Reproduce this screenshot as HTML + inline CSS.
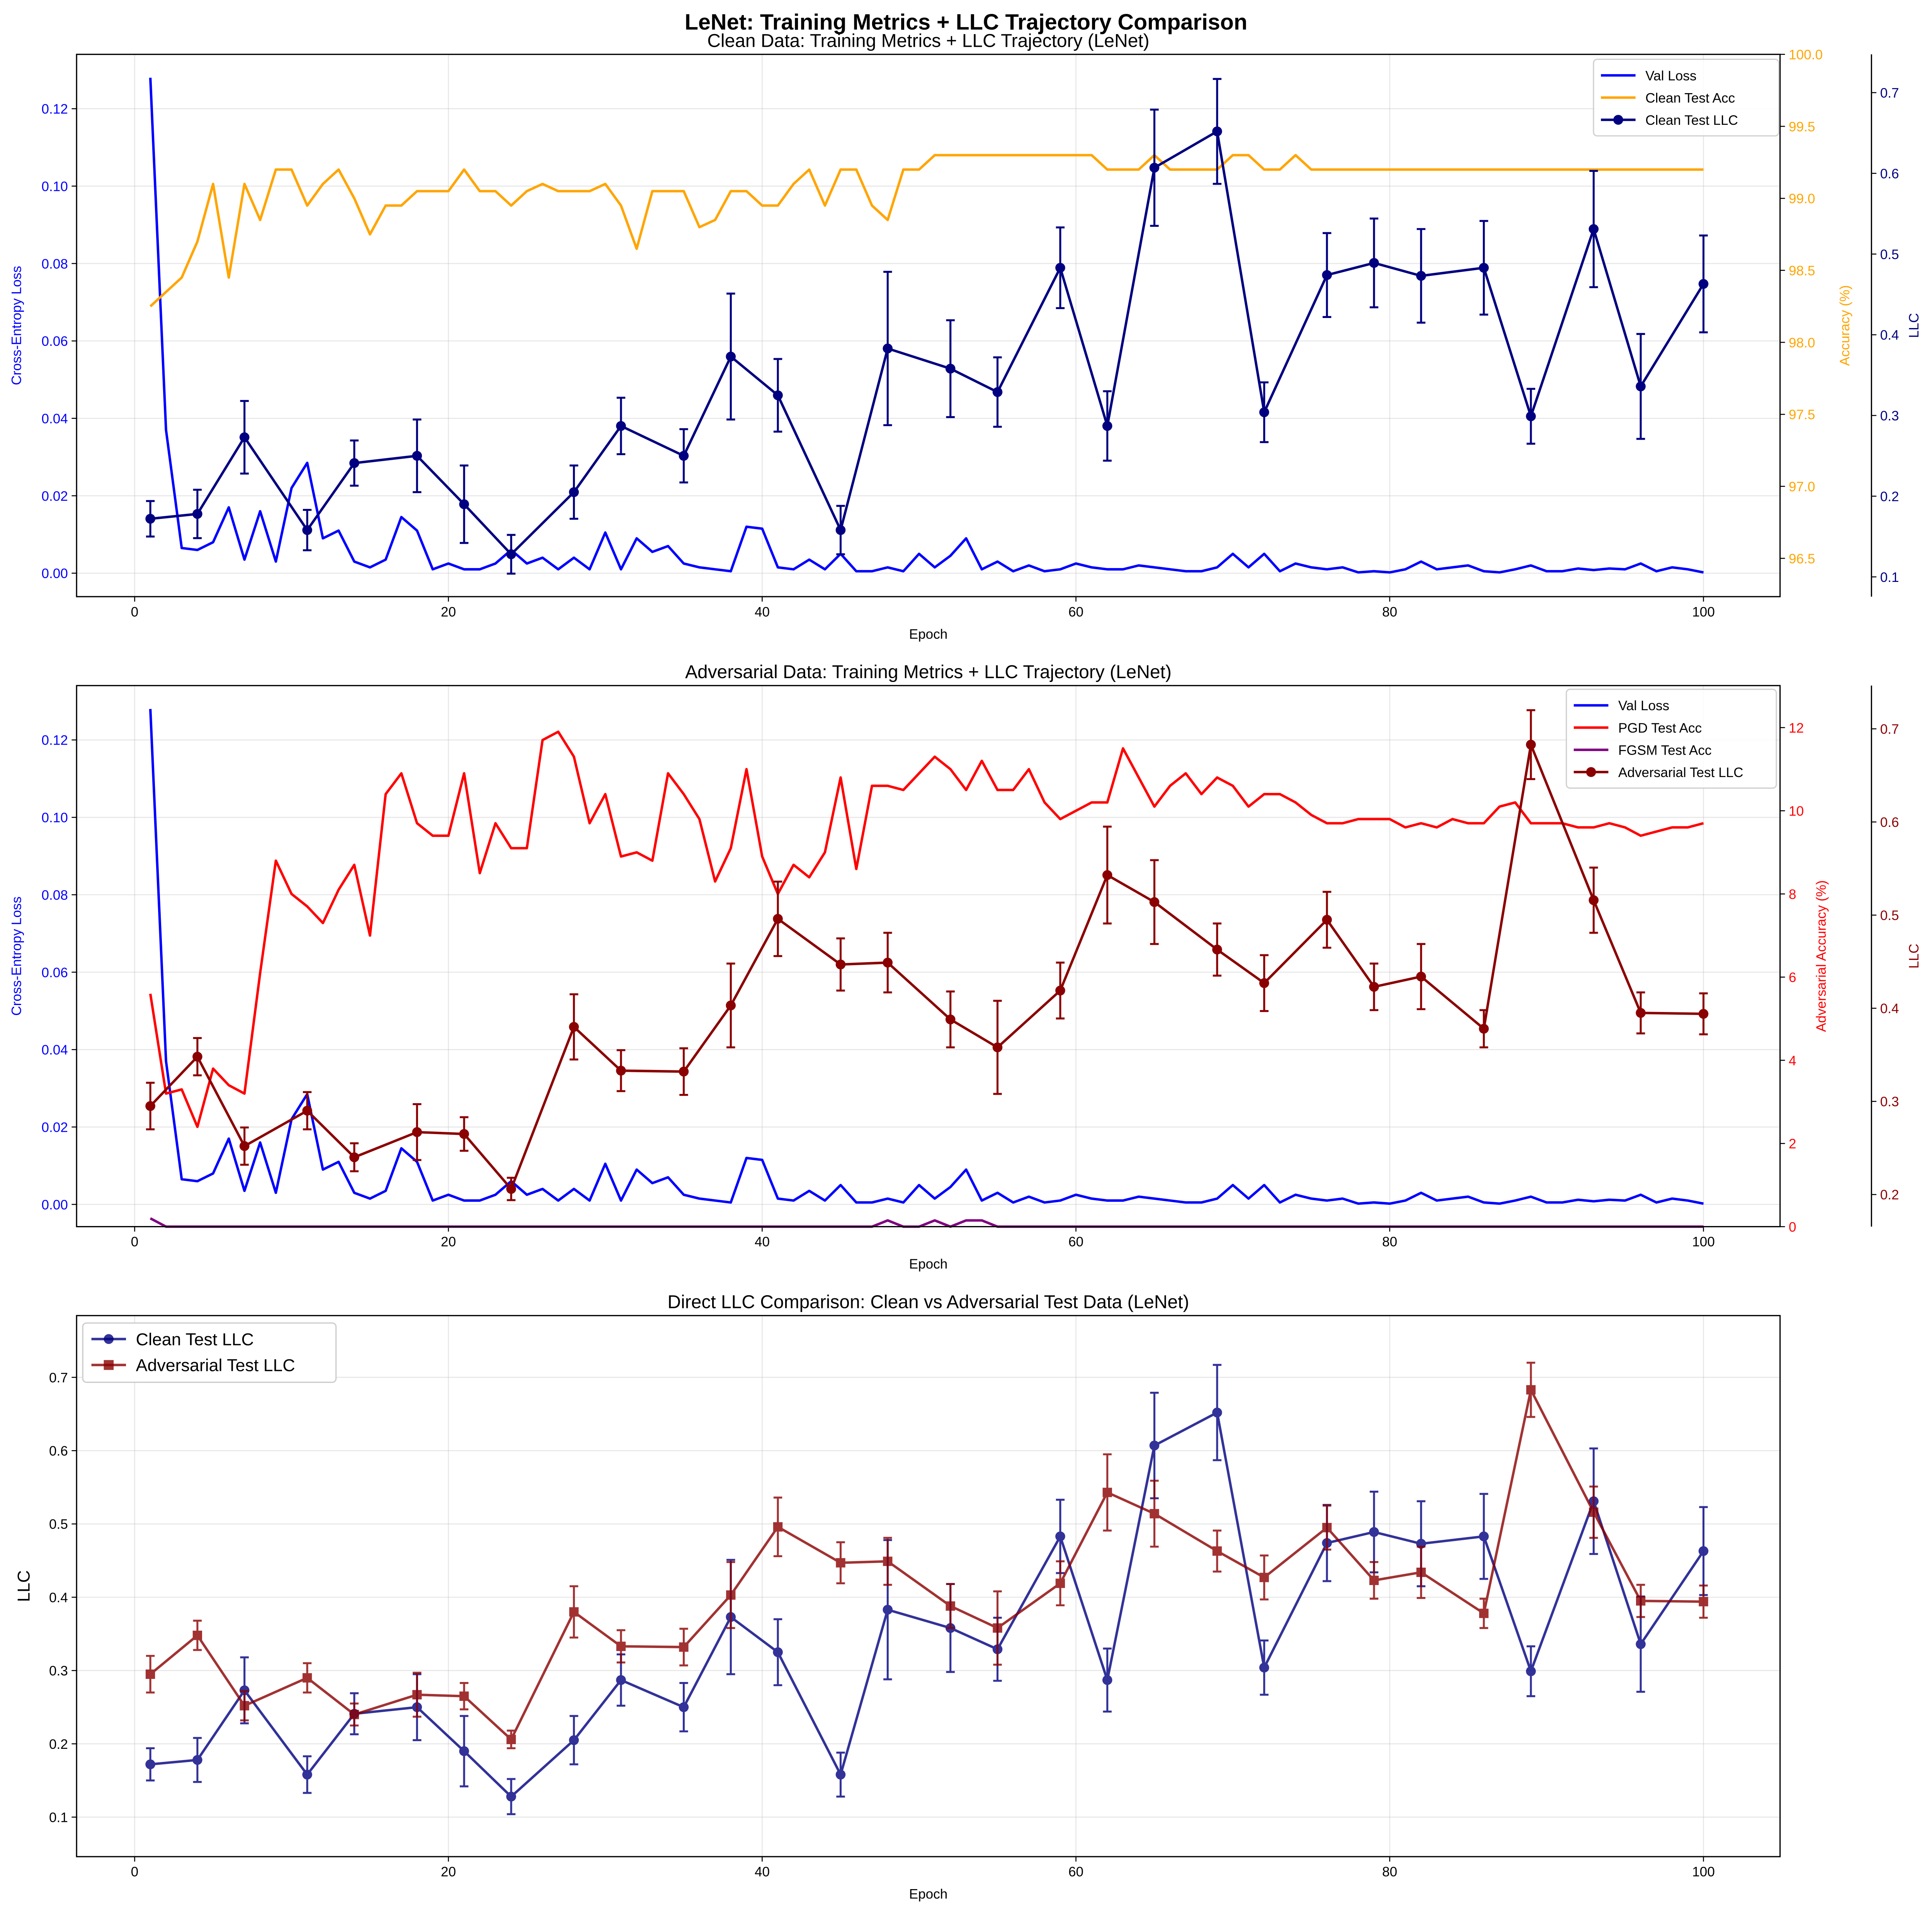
<!DOCTYPE html>
<html><head><meta charset="utf-8"><style>
html,body{margin:0;padding:0;background:#fff;overflow:hidden;width:100vw;height:100vh;}
svg{display:block;width:100vw;height:100vh;font-family:"Liberation Sans","DejaVu Sans",sans-serif;}
</style></head><body>
<svg id="fig" xmlns="http://www.w3.org/2000/svg" viewBox="0 0 1564 1546" preserveAspectRatio="xMidYMin meet">
<rect width="1564" height="1546" fill="#fff"/>
<text x="782" y="24" text-anchor="middle" font-size="18" font-weight="bold">LeNet: Training Metrics + LLC Trajectory Comparison</text>
</svg>
<script>
const llcEpochs=[1,4,7,11,14,18,21,24,28,31,35,38,41,45,48,52,55,59,62,65,69,72,76,79,82,86,89,93,96,100];
const cleanLLC=[0.172,0.178,0.273,0.158,0.241,0.250,0.190,0.128,0.205,0.287,0.250,0.373,0.325,0.158,0.383,0.358,0.329,0.483,0.287,0.607,0.652,0.304,0.474,0.489,0.473,0.483,0.299,0.531,0.336,0.463];
const cleanErr=[0.022,0.03,0.045,0.025,0.028,0.045,0.048,0.024,0.033,0.035,0.033,0.078,0.045,0.03,0.095,0.06,0.043,0.05,0.043,0.072,0.065,0.037,0.052,0.055,0.058,0.058,0.034,0.072,0.065,0.06];
const advLLC=[0.295,0.348,0.252,0.290,0.240,0.267,0.265,0.206,0.380,0.333,0.332,0.403,0.496,0.447,0.449,0.388,0.358,0.419,0.543,0.514,0.463,0.427,0.495,0.423,0.434,0.378,0.683,0.516,0.395,0.394];
const advErr=[0.025,0.02,0.02,0.02,0.015,0.03,0.018,0.012,0.035,0.022,0.025,0.045,0.04,0.028,0.032,0.03,0.05,0.03,0.052,0.045,0.028,0.03,0.03,0.025,0.035,0.02,0.037,0.035,0.022,0.022];
const valLoss=[0.128,0.037,0.0065,0.006,0.008,0.017,0.0035,0.016,0.003,0.022,0.0285,0.009,0.011,0.003,0.0015,0.0035,0.0145,0.011,0.001,0.0025,0.001,0.001,0.0025,0.006,0.0025,0.004,0.001,0.004,0.001,0.0105,0.001,0.009,0.0055,0.007,0.0025,0.0015,0.001,0.0005,0.012,0.0115,0.0015,0.001,0.0035,0.001,0.005,0.0005,0.0005,0.0015,0.0005,0.005,0.0015,0.0045,0.009,0.001,0.003,0.0005,0.002,0.0005,0.001,0.0025,0.0015,0.001,0.001,0.002,0.0015,0.001,0.0005,0.0005,0.0015,0.005,0.0015,0.005,0.0005,0.0025,0.0015,0.001,0.0015,0.0002,0.0005,0.0002,0.001,0.003,0.001,0.0015,0.002,0.0005,0.0002,0.001,0.002,0.0005,0.0005,0.0012,0.0008,0.0012,0.001,0.0025,0.0005,0.0015,0.001,0.0002];
const cleanAcc=[98.25,98.35,98.45,98.7,99.1,98.45,99.1,98.85,99.2,99.2,98.95,99.1,99.2,99.0,98.75,98.95,98.95,99.05,99.05,99.05,99.2,99.05,99.05,98.95,99.05,99.1,99.05,99.05,99.05,99.1,98.95,98.65,99.05,99.05,99.05,98.8,98.85,99.05,99.05,98.95,98.95,99.1,99.2,98.95,99.2,99.2,98.95,98.85,99.2,99.2,99.3,99.3,99.3,99.3,99.3,99.3,99.3,99.3,99.3,99.3,99.3,99.2,99.2,99.2,99.3,99.2,99.2,99.2,99.2,99.3,99.3,99.2,99.2,99.3,99.2,99.2,99.2,99.2,99.2,99.2,99.2,99.2,99.2,99.2,99.2,99.2,99.2,99.2,99.2,99.2,99.2,99.2,99.2,99.2,99.2,99.2,99.2,99.2,99.2,99.2];
const pgdAcc=[5.6,3.2,3.3,2.4,3.8,3.4,3.2,6.1,8.8,8.0,7.7,7.3,8.1,8.7,7.0,10.4,10.9,9.7,9.4,9.4,10.9,8.5,9.7,9.1,9.1,11.7,11.9,11.3,9.7,10.4,8.9,9.0,8.8,10.9,10.4,9.8,8.3,9.1,11.0,8.9,8.0,8.7,8.4,9.0,10.8,8.6,10.6,10.6,10.5,10.9,11.3,11.0,10.5,11.2,10.5,10.5,11.0,10.2,9.8,10.0,10.2,10.2,11.5,10.8,10.1,10.6,10.9,10.4,10.8,10.6,10.1,10.4,10.4,10.2,9.9,9.7,9.7,9.8,9.8,9.8,9.6,9.7,9.6,9.8,9.7,9.7,10.1,10.2,9.7,9.7,9.7,9.6,9.6,9.7,9.6,9.4,9.5,9.6,9.6,9.7];
const fgsmAcc=[0.2,0,0,0,0,0,0,0,0,0,0,0,0,0,0,0,0,0,0,0,0,0,0,0,0,0,0,0,0,0,0,0,0,0,0,0,0,0,0,0,0,0,0,0,0,0,0,0.15,0,0,0.15,0,0.15,0.15,0,0,0,0,0,0,0,0,0,0,0,0,0,0,0,0,0,0,0,0,0,0,0,0,0,0,0,0,0,0,0,0,0,0,0,0,0,0,0,0,0,0,0,0,0,0];
const xTicks=[0,20,40,60,80,100];
const lossTicks=[0,0.02,0.04,0.06,0.08,0.10,0.12];
const cleanAccTicks=[96.5,97,97.5,98,98.5,99,99.5,100];
const advAccTicks=[0,2,4,6,8,10,12];
const llcTicks=[0.1,0.2,0.3,0.4,0.5,0.6,0.7];
const llcTicks2=[0.2,0.3,0.4,0.5,0.6,0.7];

const svg=document.getElementById('fig');
const NS='http://www.w3.org/2000/svg';
function mk(tag,at,parent){const e=document.createElementNS(NS,tag);for(const k in at)e.setAttribute(k,at[k]);(parent||svg).appendChild(e);return e;}
function lin(d0,d1,r0,r1){return v=>r0+(v-d0)*(r1-r0)/(d1-d0);}
const L=62,R=1441;
const X=lin(0,100,109,1379);
const epochs=valLoss.map((_,i)=>i+1);
function poly(xs,ys,fx,fy,color,w,name){
 const p=mk('polyline',{points:xs.map((x,i)=>fx(x).toFixed(2)+','+fy(ys[i]).toFixed(2)).join(' '),fill:'none',stroke:color,'stroke-width':w,'stroke-linejoin':'round'});
 
 
 return p;
}
function errs(xs,ys,es,fx,fy,color,name,sq,op){
 const g=mk('g',{opacity:op||1});
 
 
 xs.forEach((x,i)=>{const cx=fx(x),y1=fy(ys[i]-es[i]),y2=fy(ys[i]+es[i]);
  mk('line',{x1:cx,x2:cx,y1:y1,y2:y2,stroke:color,'stroke-width':1.6},g);
  mk('line',{x1:cx-3.5,x2:cx+3.5,y1:y1,y2:y1,stroke:color,'stroke-width':1.6},g);
  mk('line',{x1:cx-3.5,x2:cx+3.5,y1:y2,y2:y2,stroke:color,'stroke-width':1.6},g);});
 const p=poly(xs,ys,fx,fy,color,2,name+'-line');g.appendChild(p);
 xs.forEach((x,i)=>{let m;
  if(sq){m=mk('rect',{x:fx(x)-3.8,y:fy(ys[i])-3.8,width:7.6,height:7.6,fill:color},g);}
  else{m=mk('circle',{cx:fx(x),cy:fy(ys[i]),r:4,fill:color},g);}
  
  });
}
function txt(x,y,s,o,name){const t=mk('text',Object.assign({x:x,y:y},o));t.textContent=s;
 return t;}
function frame(T,B,title){
 const g=mk('g',{});
 
 
 xTicks.forEach(v=>{const x=X(v);mk('line',{x1:x,x2:x,y1:T,y2:B,stroke:'#b0b0b0','stroke-width':0.8,opacity:0.3},g);
  mk('line',{x1:x,x2:x,y1:B,y2:B+4,stroke:'#000','stroke-width':0.8},g);
  txt(x,B+16,String(v),{'text-anchor':'middle','font-size':11},'x-tick-label');});
 txt((L+R)/2,B+34,'Epoch',{'text-anchor':'middle','font-size':11},'x-axis-title');
 txt((L+R)/2,T-6,title,{'text-anchor':'middle','font-size':15},'subplot-title');
}
function box(T,B){mk('rect',{x:L,y:T,width:R-L,height:B-T,fill:'none',stroke:'#000','stroke-width':1});}
function leftAxis(T,B,f,ticks,color,label,fmt,grid,lx){
 ticks.forEach(v=>{const y=f(v);if(grid)mk('line',{x1:L,x2:R,y1:y,y2:y,stroke:'#b0b0b0','stroke-width':0.8,opacity:0.3});
  mk('line',{x1:L-4,x2:L,y1:y,y2:y,stroke:'#000','stroke-width':0.8});
  txt(L-7,y+4,fmt(v),{'text-anchor':'end','font-size':11,fill:color},'y-tick-label');});
 txt(0,0,label,{'text-anchor':'middle','font-size':lx?14:11,fill:color,transform:`translate(${lx||17},${(T+B)/2}) rotate(-90)`},'y-axis-title');
}
function rightAxis(xp,T,B,f,ticks,color,label,fmt,lx,spine){
 if(spine)mk('line',{x1:xp,x2:xp,y1:T,y2:B,stroke:'#000','stroke-width':1});
 ticks.forEach(v=>{const y=f(v);mk('line',{x1:xp,x2:xp+4,y1:y,y2:y,stroke:'#000','stroke-width':0.8});
  txt(xp+7,y+4,fmt(v),{'font-size':11,fill:color},'right-tick-label');});
 txt(0,0,label,{'text-anchor':'middle','font-size':11,fill:color,transform:`translate(${lx},${(T+B)/2}) rotate(-90)`},'right-axis-title');
}
function legend(x,y,w,items){
 const g=mk('g',{});
 
 
 mk('rect',{x:x,y:y,width:w,height:items.length*18+8,fill:'#fff',stroke:'#ccc','stroke-width':1,rx:3,opacity:0.9},g);
 items.forEach((it,i)=>{const yy=y+13+i*18;
  mk('line',{x1:x+6,x2:x+34,y1:yy,y2:yy,stroke:it[1],'stroke-width':2},g);
  if(it[2]==='o')mk('circle',{cx:x+20,cy:yy,r:4,fill:it[1]},g);
  txt(x+42,yy+4,it[0],{'font-size':11},'legend-entry');});
}
const f2=v=>v.toFixed(2),f1=v=>v.toFixed(1),f0=v=>String(v);

{const T=44,B=483;
 frame(T,B,'Clean Data: Training Metrics + LLC Trajectory (LeNet)');
 const yL=lin(0,0.12,464,88),yA=lin(96.5,100,452,44),yC=lin(0.1,0.7,467,75);
 leftAxis(T,B,yL,lossTicks,'blue','Cross-Entropy Loss',f2,true);
 poly(epochs,valLoss,X,yL,'blue',2,'val-loss-line');
 poly(epochs,cleanAcc,X,yA,'orange',2,'clean-test-acc-line');
 errs(llcEpochs,cleanLLC,cleanErr,X,yC,'#000080','clean-test-llc');
 box(T,B);
 rightAxis(R,T,B,yA,cleanAccTicks,'orange','Accuracy (%)',f1,1497,false);
 rightAxis(1515,T,B,yC,llcTicks,'#000080','LLC',f1,1553,true);
 legend(1290,48,150,[['Val Loss','blue'],['Clean Test Acc','orange'],['Clean Test LLC','#000080','o']]);}
{const T=555,B=993;
 frame(T,B,'Adversarial Data: Training Metrics + LLC Trajectory (LeNet)');
 const yL=lin(0,0.12,975,599),yA=lin(0,12,993,589),yC=lin(0.2,0.7,967,590);
 leftAxis(T,B,yL,lossTicks,'blue','Cross-Entropy Loss',f2,true);
 poly(epochs,valLoss,X,yL,'blue',2,'val-loss-line');
 poly(epochs,pgdAcc,X,yA,'red',2,'pgd-test-acc-line');
 poly(epochs,fgsmAcc,X,yA,'purple',2,'fgsm-test-acc-line');
 errs(llcEpochs,advLLC,advErr,X,yC,'#8b0000','adversarial-test-llc');
 box(T,B);
 rightAxis(R,T,B,yA,advAccTicks,'red','Adversarial Accuracy (%)',f0,1478,false);
 rightAxis(1515,T,B,yC,llcTicks2,'#8b0000','LLC',f1,1553,true);
 legend(1268,558,170,[['Val Loss','blue'],['PGD Test Acc','red'],['FGSM Test Acc','purple'],['Adversarial Test LLC','#8b0000','o']]);}
{const T=1065,B=1503;
 frame(T,B,'Direct LLC Comparison: Clean vs Adversarial Test Data (LeNet)');
 const yC=lin(0.1,0.7,1471,1115);
 leftAxis(T,B,yC,llcTicks,'#000','LLC',f1,true,24);
 errs(llcEpochs,cleanLLC,cleanErr,X,yC,'#000080','clean-llc-compare',false,0.8);
 errs(llcEpochs,advLLC,advErr,X,yC,'#8b0000','adversarial-llc-compare',true,0.8);
 box(T,B);
 const g=mk('g',{});
 
 
 mk('rect',{x:67,y:1071,width:205,height:48,fill:'#fff',stroke:'#ccc',rx:3},g);
 [['Clean Test LLC','#000080',0],['Adversarial Test LLC','#8b0000',1]].forEach(it=>{const yy=1084+it[2]*21;
  mk('line',{x1:74,x2:102,y1:yy,y2:yy,stroke:it[1],'stroke-width':2,opacity:0.8},g);
  if(it[2])mk('rect',{x:84,y:yy-4,width:8,height:8,fill:it[1],opacity:0.8},g);else mk('circle',{cx:88,cy:yy,r:4,fill:it[1],opacity:0.8},g);
  txt(110,yy+5,it[0],{'font-size':14},'legend-entry');});}
</script>
</body></html>
